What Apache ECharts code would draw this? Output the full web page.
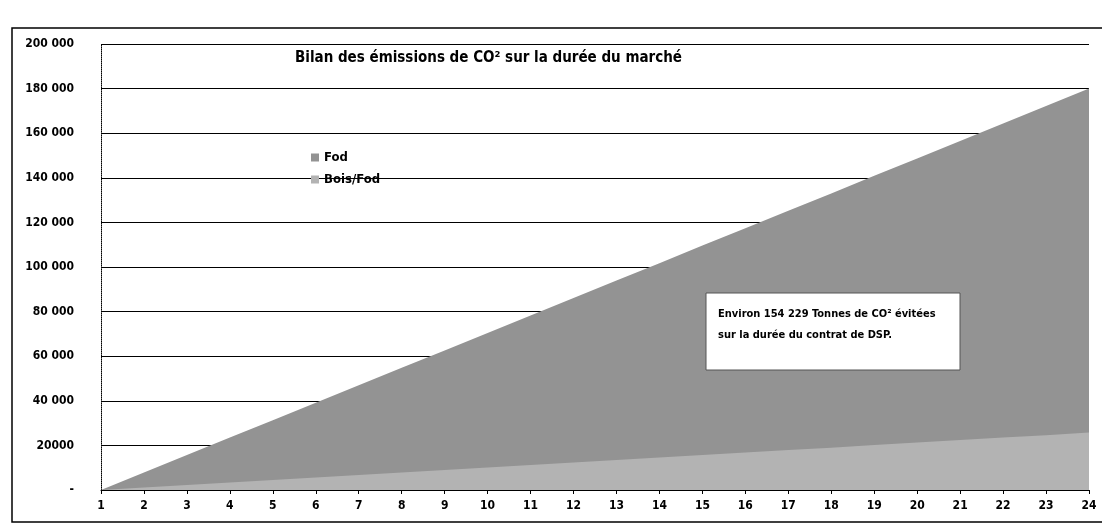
<!DOCTYPE html>
<html>
<head>
<meta charset="utf-8">
<script src="https://cdn.jsdelivr.net/npm/echarts@6/dist/echarts.min.js"></script>
<style>
html,body{margin:0;padding:0;background:#fff;}
#c{width:1102px;height:526px;}
</style>
</head>
<body>
<div id="c"></div>
<script>
// ---- data ----
const years = ['1','2','3','4','5','6','7','8','9','10','11','12','13','14','15','16','17','18','19','20','21','22','23','24'];
const fod = [0, 7800, 15700, 23500, 31300, 39100, 47000, 54800, 62600, 70400, 78300, 86100, 93900, 101700, 109600, 117400, 125200, 133000, 140900, 148700, 156500, 164300, 172200, 180000];
const boisFod = [0, 1100, 2200, 3400, 4500, 5600, 6700, 7800, 9000, 10100, 11200, 12300, 13400, 14600, 15700, 16800, 17900, 19000, 20200, 21300, 22400, 23500, 24600, 25800];
const yTickLabels = {0:'-',20000:'20000',40000:'40 000',60000:'60 000',80000:'80 000',100000:'100 000',120000:'120 000',140000:'140 000',160000:'160 000',180000:'180 000',200000:'200 000'};
const titleText = 'Bilan des émissions de CO² sur la durée du marché';
const noteLines = ['Environ 154 229 Tonnes de CO² évitées', 'sur la durée du contrat de DSP.'];
const seriesNames = ['Fod', 'Bois/Fod'];

const FONT = '"DejaVu Sans Condensed", "DejaVu Sans", sans-serif';
const chart = echarts.init(document.getElementById('c'), null, {renderer: 'canvas'});
chart.setOption({
  animation: false,
  backgroundColor: '#fff',
  title: {
    text: titleText,
    left: 290, top: 46,
    textStyle: {fontFamily: FONT, fontSize: 15, fontWeight: 'bold', color: '#000'}
  },
  legend: {
    orient: 'vertical',
    left: 306, top: 146,
    itemWidth: 8, itemHeight: 8, itemGap: 9,
    icon: 'rect',
    data: seriesNames,
    textStyle: {fontFamily: FONT, fontSize: 13, fontWeight: 'bold', color: '#000'}
  },
  grid: {left: 101, right: 13, top: 44, bottom: 36},
  xAxis: {
    type: 'category',
    data: years,
    boundaryGap: false,
    axisLine: {show: true, lineStyle: {color: '#000', width: 1}},
    axisTick: {show: true, length: 4, lineStyle: {color: '#000'}},
    axisLabel: {color: '#000', fontFamily: FONT, fontSize: 12, fontWeight: 'bold', margin: 10}
  },
  yAxis: {
    type: 'value',
    min: 0, max: 200000, interval: 20000,
    axisLine: {show: true, lineStyle: {color: '#000', width: 1, type: 'dotted'}},
    axisTick: {show: false},
    splitLine: {show: true, lineStyle: {color: '#000', width: 1}},
    axisLabel: {
      color: '#000', fontFamily: FONT, fontSize: 12, fontWeight: 'bold', margin: 27,
      formatter: v => yTickLabels[v] !== undefined ? yTickLabels[v] : ''
    }
  },
  series: [
    {
      name: seriesNames[0], type: 'line', data: fod,
      symbol: 'none', lineStyle: {width: 0},
      itemStyle: {color: '#939393'},
      areaStyle: {color: '#939393', opacity: 1},
      z: 2
    },
    {
      name: seriesNames[1], type: 'line', data: boisFod,
      symbol: 'none', lineStyle: {width: 0},
      itemStyle: {color: '#b3b3b3'},
      areaStyle: {color: '#b3b3b3', opacity: 1},
      z: 3
    }
  ],
  graphic: [
    {
      type: 'rect', silent: true, z: 10,
      shape: {x: 12, y: 28, width: 1120, height: 494},
      style: {fill: 'none', stroke: '#000', lineWidth: 1.5}
    },
    {
      type: 'rect', z: 20,
      shape: {x: 706, y: 293, width: 254, height: 77},
      style: {fill: '#fff', stroke: '#555', lineWidth: 1}
    },
    {
      type: 'text', z: 21, left: 718, top: 304,
      style: {text: noteLines.join('\n'), font: 'bold 11px ' + FONT, fill: '#000', lineHeight: 21}
    }
  ]
});
</script>
</body>
</html>
